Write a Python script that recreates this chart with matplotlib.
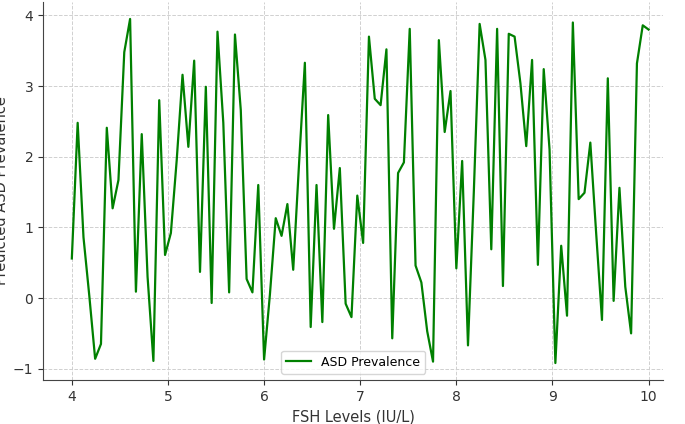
import numpy as np
import matplotlib.pyplot as plt

fsh = np.linspace(4, 10, 100)
asd = [0.56, 2.48, 0.86, 0.03, -0.86, -0.65, 2.41, 1.27, 1.67, 3.48,
       3.95, 0.09, 2.32, 0.30, -0.89, 2.80, 0.61, 0.92, 1.95, 3.16,
       2.14, 3.36, 0.37, 2.99, -0.07, 3.77, 2.48, 0.08, 3.73, 2.66,
       0.27, 0.08, 1.60, -0.87, 0.05, 1.13, 0.88, 1.33, 0.40, 1.90,
       3.33, -0.41, 1.60, -0.34, 2.59, 0.98, 1.84, -0.08, -0.27, 1.45,
       0.78, 3.70, 2.82, 2.73, 3.52, -0.57, 1.77, 1.92, 3.81, 0.46,
       0.22, -0.47, -0.90, 3.65, 2.35, 2.93, 0.42, 1.94, -0.67, 1.50,
       3.88, 3.37, 0.69, 3.81, 0.17, 3.74, 3.70, 3.04, 2.15, 3.37,
       0.47, 3.24, 2.10, -0.92, 0.74, -0.25, 3.90, 1.40, 1.49, 2.20,
       0.92, -0.31, 3.11, -0.04, 1.56, 0.16, -0.50, 3.32, 3.86, 3.80]

fig = plt.figure(figsize=(6.85, 4.24), dpi=100)
ax = fig.add_axes([43/685, 44/424, 620/685, 378/424])
ax.plot(fsh, asd, color="green", linewidth=1.6, label="ASD Prevalence")
ax.set_xlim(3.7, 10.15)
ax.set_ylim(-1.16, 4.19)
ax.grid(True, linestyle="--", color="#d0d0d0", linewidth=0.7)
for s in ["top", "right"]:
    ax.spines[s].set_visible(False)
for s in ["left", "bottom"]:
    ax.spines[s].set_color("#444444")
ax.tick_params(colors="#333333", labelsize=10)
ax.set_xlabel("FSH Levels (IU/L)", fontsize=10.5, color="#333333")
ax.set_ylabel("Predicted ASD Prevalence", fontsize=10.5, color="#333333")
ax.yaxis.set_label_coords(-0.055, 0.5)
ax.legend(loc="lower center", fontsize=9)
fig.savefig("out.png")
